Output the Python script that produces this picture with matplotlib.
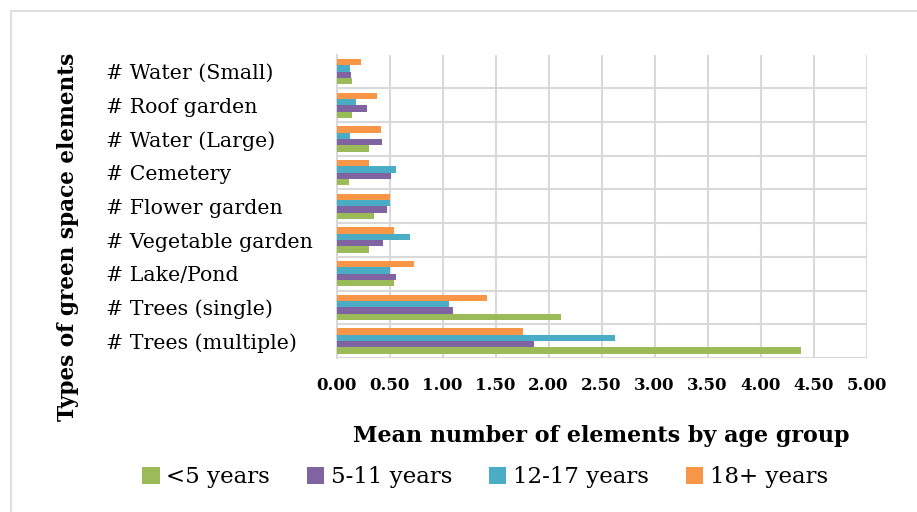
import numpy as np
import matplotlib.pyplot as plt
from matplotlib.patches import Rectangle

# green space element types, bottom to top
categories = ["# Trees (multiple)", "# Trees (single)", "# Lake/Pond", "# Vegetable garden",
              "# Flower garden", "# Cemetery", "# Water (Large)", "# Roof garden", "# Water (Small)"]

# mean number of elements per age group (same order as categories)
under5 = [4.38, 2.12, 0.54, 0.31, 0.35, 0.12, 0.31, 0.15, 0.15]
age5_11 = [1.86, 1.10, 0.56, 0.44, 0.475, 0.51, 0.43, 0.29, 0.14]
age12_17 = [2.63, 1.06, 0.50, 0.69, 0.50, 0.56, 0.13, 0.185, 0.125]
age18plus = [1.76, 1.42, 0.73, 0.54, 0.50, 0.31, 0.42, 0.38, 0.23]

series = [("<5 years", under5, "#9BBB59"),
          ("5-11 years", age5_11, "#8064A2"),
          ("12-17 years", age12_17, "#4BACC6"),
          ("18+ years", age18plus, "#F79646")]

plt.rcParams["font.family"] = ["DejaVu Serif"]

fig = plt.figure(figsize=(9.17, 5.12), dpi=100)
ax = fig.add_axes([0.367, 0.301, 0.578, 0.592])

# outer chart border
fig.patches.append(Rectangle((11 / 917, -0.1), 1.2, 1 - 11 / 512 + 0.1, transform=fig.transFigure,
                             fill=False, edgecolor="#D9D9D9", linewidth=1.2))

y = np.arange(len(categories))
h = 0.19
for i, (name, vals, color) in enumerate(series):
    ax.barh(y + (i - 1.5) * h, vals, height=h, color=color, label=name, zorder=3)

ax.set_xlim(0, 5)
ax.set_ylim(-0.5, len(categories) - 0.5)
ax.set_xticks(np.arange(0, 5.01, 0.5))
ax.set_xticklabels([f"{v:.2f}" for v in np.arange(0, 5.01, 0.5)], fontsize=12, fontweight="bold")
ax.set_yticks(y)
ax.set_yticklabels(categories, fontsize=14.8, ha="left")
ax.tick_params(axis="y", length=0, pad=166)
ax.tick_params(axis="x", length=0, pad=14)
# category boundaries (no line along the top edge)
ax.set_yticks(np.arange(-0.5, len(categories) - 1, 1), minor=True)
ax.tick_params(axis="y", which="minor", length=0)

ax.grid(axis="x", color="#D9D9D9", linewidth=1.5, zorder=0)
ax.grid(axis="y", which="minor", color="#D9D9D9", linewidth=1.5, zorder=0)
for s in ["top", "right", "bottom"]:
    ax.spines[s].set_visible(False)
ax.spines["left"].set_color("#D9D9D9")
ax.spines["left"].set_linewidth(1.5)

ax.set_xlabel("Mean number of elements by age group", fontsize=16, fontweight="bold", labelpad=22)
fig.text(0.074, 0.537, "Types of green space elements", rotation=90, fontsize=15.6,
         fontweight="bold", ha="center", va="center")

fig.legend(loc="center", bbox_to_anchor=(0.529, 0.068), ncol=4, frameon=False, fontsize=16.5,
           handlelength=0.75, handleheight=0.75, handletextpad=0.3, columnspacing=1.6)

plt.savefig("out.png", dpi=100)
plt.close()
